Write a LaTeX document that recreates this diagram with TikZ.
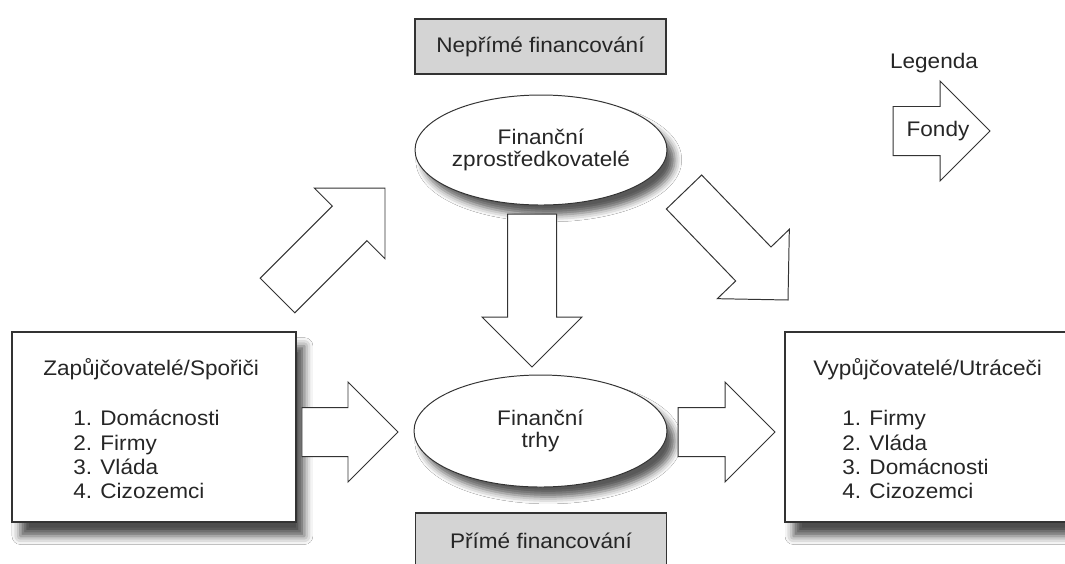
\documentclass[tikz,border=0pt]{standalone}
\usepackage{fontspec}
\setmainfont{Liberation Sans}[FakeStretch=1.07]
\usetikzlibrary{shapes.geometric,calc,shadows.blur}

\begin{document}
\begin{tikzpicture}
        [box/.style={rectangle, draw=black!80, line width=0.9pt, fill=white, minimum width=7.1cm, minimum height=4.75cm,
            blur shadow={shadow xshift=6pt, shadow yshift=-10pt, shadow blur radius=6pt, shadow opacity=70}},
        boxGray/.style={rectangle, draw=black!80, line width=0.9pt, fill=black!17, minimum width=6.275cm, minimum height=1.375cm,
            font=\fontsize{15}{17}\selectfont, text=black!85},
        oval/.style={ellipse, draw=black!80, line width=0.7pt, fill=white, inner sep=0pt, minimum width=6.3cm, minimum height=2.75cm,
            align=center, font=\fontsize{15}{16}\selectfont, text=black!85,
            blur shadow={shadow xshift=5.5pt, shadow yshift=-7pt, shadow blur radius=5pt, shadow opacity=65}},
        txt/.style={font=\fontsize{15}{17}\selectfont, text=black!85, inner sep=0pt},
        fond/.style={draw=black!80, fill=white, line width=0.7pt, line join=miter,
            to path={($(\tikztostart)!0.6125cm!90:(\tikztotarget)$)
                -- ($($(\tikztotarget)!1.25cm!(\tikztostart)$)!0.6125cm!90:(\tikztotarget)$)
                -- ($($(\tikztotarget)!1.25cm!(\tikztostart)$)!1.25cm!90:(\tikztotarget)$)
                -- (\tikztotarget)
                -- ($($(\tikztotarget)!1.25cm!(\tikztostart)$)!1.25cm!-90:(\tikztotarget)$)
                -- ($($(\tikztotarget)!1.25cm!(\tikztostart)$)!0.6125cm!-90:(\tikztotarget)$)
                -- ($(\tikztostart)!0.6125cm!-90:(\tikztotarget)$) -- cycle}}]
        \path[use as bounding box, fill=white] (0,0) rectangle (26.625,-14.075);

        \node[boxGray] (nepr) at (13.5125,-1.1625) {Nepřímé financování};
        \node[boxGray] (prim) at (13.525,-13.5125) {Přímé financování};
        \node[oval] (zpro) at (13.525,-3.75) {Finanční\\zprostředkovatelé};
        \node[oval, minimum width=6.325cm, minimum height=2.8cm] (trhy) at (13.5125,-10.775) {Finanční\\trhy};
        \node[box] (spor) at (3.85,-10.675) {};
        \node[box] (utra) at (23.175,-10.675) {};

        \node[txt, anchor=base west] (sporT) at (1.075,-9.375) {Zapůjčovatelé/Spořiči};
        \foreach \kdo [count=\i] in {Domácnosti, Firmy, Vláda, Cizozemci}
            \node[txt, anchor=base west] (spor\i) at (1.825,{-10.64-0.61*(\i-1)}) {\i. \kdo};
        \node[txt, anchor=base west] (utraT) at (20.325,-9.375) {Vypůjčovatelé/Utráceči};
        \foreach \kdo [count=\i] in {Firmy, Vláda, Domácnosti, Cizozemci}
            \node[txt, anchor=base west] (utra\i) at (21.05,{-10.64-0.61*(\i-1)}) {\i. \kdo};

        \coordinate (s1) at (6.9375,-7.3875);  \coordinate (t1) at (9.625,-4.7);
        \coordinate (s2) at (17.1,-4.8);       \coordinate (t2) at (19.7,-7.5);
        \coordinate (s3) at (13.3,-5.35);      \coordinate (t3) at (13.3,-9.175);
        \coordinate (s4) at (7.55,-10.8);      \coordinate (t4) at (9.95,-10.8);
        \coordinate (s5) at (16.95,-10.8);     \coordinate (t5) at (19.375,-10.8);
        \coordinate (s6) at (22.325,-3.275);   \coordinate (t6) at (24.75,-3.275);

        \draw[fond] (s1) to (t1);
        \draw[fond] (s2) to (t2);
        \draw[fond] (s3) to (t3);
        \draw[fond] (s4) to (t4);
        \draw[fond] (s5) to (t5);
        \draw[fond] (s6) to (t6);

        \node[txt] (leg) at (23.35,-1.575) {Legenda};
        \node[txt] (fondy) at (23.45,-3.275) {Fondy};
    \end{tikzpicture}
\end{document}
